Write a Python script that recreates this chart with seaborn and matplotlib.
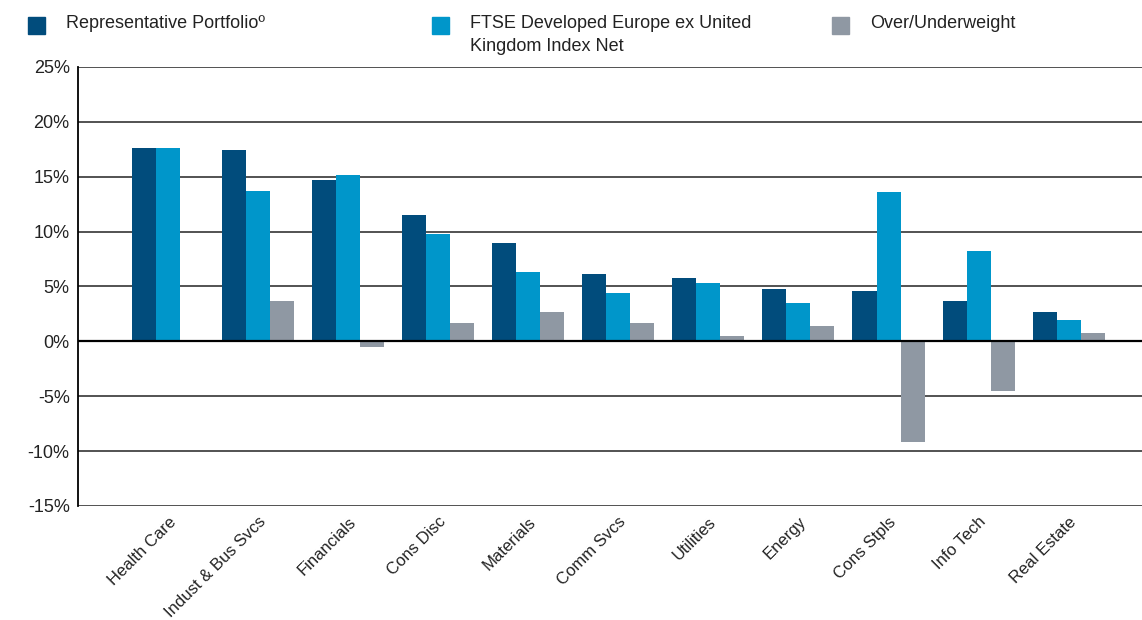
import pandas as pd
import seaborn as sns
import matplotlib.pyplot as plt
from matplotlib.patches import Rectangle

sectors = ["Health Care", "Indust & Bus Svcs", "Financials", "Cons Disc", "Materials",
           "Comm Svcs", "Utilities", "Energy", "Cons Stpls", "Info Tech", "Real Estate"]
portfolio = [17.6, 17.4, 14.7, 11.5, 9.0, 6.1, 5.8, 4.8, 4.6, 3.7, 2.7]
benchmark = [17.6, 13.7, 15.2, 9.8, 6.3, 4.4, 5.3, 3.5, 13.6, 8.2, 1.9]
over_under = [0.0, 3.7, -0.5, 1.7, 2.7, 1.7, 0.5, 1.4, -9.2, -4.5, 0.8]

series_names = ["Representative Portfolio\u00ba",
                "FTSE Developed Europe ex United\nKingdom Index Net",
                "Over/Underweight"]
colors = ["#014c7c", "#0096ca", "#8f98a3"]

df = pd.DataFrame({
    "sector": sectors * 3,
    "value": portfolio + benchmark + over_under,
    "series": [series_names[0]] * len(sectors) + [series_names[1]] * len(sectors)
              + [series_names[2]] * len(sectors),
})

sns.set_style("white")
plt.rcParams["font.family"] = ["Liberation Sans", "DejaVu Sans"]

fig = plt.figure(figsize=(11.42, 6.2), dpi=100)
ax = fig.add_axes([0.0683, 0.184, 0.94, 0.708])

sns.barplot(data=df, x="sector", y="value", hue="series", palette=colors,
            width=0.8, saturation=1, errorbar=None, legend=False, ax=ax,
            linewidth=0, zorder=3)

ax.set_ylim(-15, 25)
ax.set_xlim(-1.0, 10.92)
ax.set_yticks(range(-15, 30, 5))
ax.set_yticklabels([f"{t}%" for t in range(-15, 30, 5)], fontsize=13, color="#222222")
for t in range(-15, 30, 5):
    if t != 0:
        ax.axhline(t, color="#444444", lw=1.3, zorder=1)
ax.axhline(0, color="black", lw=1.6, zorder=4)

ax.set_xticks(range(len(sectors)))
ax.set_xticklabels(sectors, rotation=45, ha="right", rotation_mode="anchor",
                   fontsize=12, color="#222222")
ax.tick_params(axis="both", length=0, pad=6)
ax.set_xlabel("")
ax.set_ylabel("")
for side in ["top", "right", "bottom"]:
    ax.spines[side].set_visible(False)
ax.spines["left"].set_color("black")
ax.spines["left"].set_linewidth(1.3)

# legend drawn across the top
leg_x = [0.0245, 0.3785, 0.7285]
for x, name, c in zip(leg_x, series_names, colors):
    fig.patches.append(Rectangle((x, 0.945), 0.0145, 0.027, transform=fig.transFigure,
                                 color=c, figure=fig))
    fig.text(x + 0.033, 0.975, name, fontsize=13, color="#222222", va="top",
             linespacing=1.45)

fig.savefig("out.png", dpi=100)
